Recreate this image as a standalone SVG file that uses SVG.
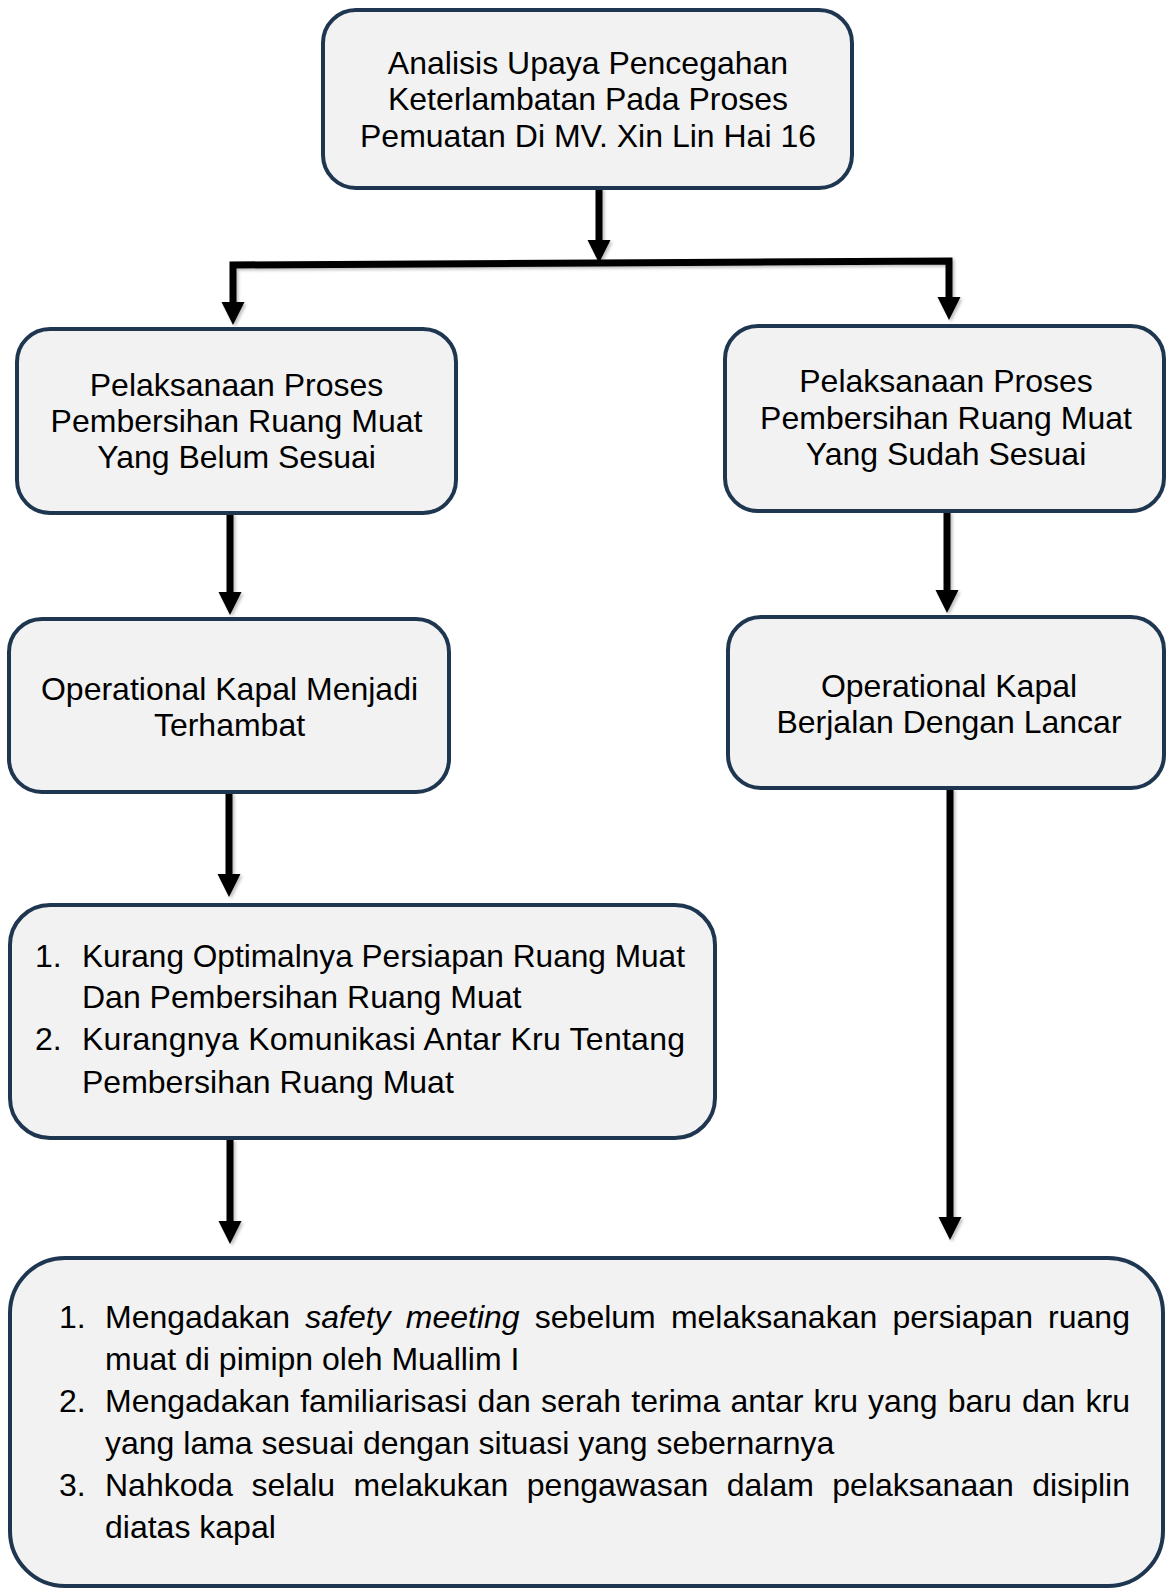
<svg xmlns="http://www.w3.org/2000/svg" width="1166" height="1588" viewBox="0 0 1166 1588">
<defs>
<marker id="ah" markerUnits="userSpaceOnUse" viewBox="0 -12 23 24" markerWidth="23" markerHeight="24" refX="0" refY="0" orient="auto" overflow="visible">
<path d="M0,-11.5 L23,0 L0,11.5 Z" fill="#000"/>
</marker>
<filter id="sh" x="-20%" y="-20%" width="140%" height="140%">
<feDropShadow dx="2" dy="2" stdDeviation="1.5" flood-color="#000" flood-opacity="0.25"/>
</filter>
</defs>
<style>
.box{fill:#F2F2F2;stroke:#1F3651;stroke-width:4}
.t{font-family:"Liberation Sans",Arial,sans-serif;font-size:32px;fill:#000}
.c{text-anchor:middle}
.con{fill:none;stroke:#000;stroke-width:7;stroke-linejoin:miter}
</style>
<rect width="1166" height="1588" fill="#fff"/>
<g id="connectors" filter="url(#sh)">
<path class="con" d="M599,188 L599,240" marker-end="url(#ah)"/>
<path class="con" d="M599,263 L233,265 L233,302" marker-end="url(#ah)"/>
<path class="con" d="M599,263 L949,261 L949,297" marker-end="url(#ah)"/>
<path class="con" d="M230,513 L230,592" marker-end="url(#ah)"/>
<path class="con" d="M947,511 L947,590" marker-end="url(#ah)"/>
<path class="con" d="M229,792 L229,874" marker-end="url(#ah)"/>
<path class="con" d="M230,1139 L230,1221" marker-end="url(#ah)"/>
<path class="con" d="M950,788 L950,1217" marker-end="url(#ah)"/>
</g>
<g id="n-top">
<rect class="box" x="323" y="10" width="529" height="178" rx="33"/>
<text class="t c" x="588" y="74">Analisis Upaya Pencegahan</text>
<text class="t c" x="588" y="110">Keterlambatan Pada Proses</text>
<text class="t c" x="588" y="147">Pemuatan Di MV. Xin Lin Hai 16</text>
</g>
<g id="n-left1">
<rect class="box" x="17" y="329" width="439" height="184" rx="33"/>
<text class="t c" x="236.5" y="396">Pelaksanaan Proses</text>
<text class="t c" x="236.5" y="432">Pembersihan Ruang Muat</text>
<text class="t c" x="236.5" y="468">Yang Belum Sesuai</text>
</g>
<g id="n-right1">
<rect class="box" x="725" y="326" width="439" height="185" rx="33"/>
<text class="t c" x="946" y="392">Pelaksanaan Proses</text>
<text class="t c" x="946" y="429">Pembersihan Ruang Muat</text>
<text class="t c" x="946" y="465">Yang Sudah Sesuai</text>
</g>
<g id="n-left2">
<rect class="box" x="9" y="619" width="440" height="173" rx="33"/>
<text class="t c" x="229.5" y="700">Operational Kapal Menjadi</text>
<text class="t c" x="229.5" y="736">Terhambat</text>
</g>
<g id="n-right2">
<rect class="box" x="728" y="617" width="436" height="171" rx="33"/>
<text class="t c" x="949" y="697">Operational Kapal</text>
<text class="t c" x="949" y="733">Berjalan Dengan Lancar</text>
</g>
<g id="n-causes">
<rect class="box" x="10" y="905" width="705" height="233" rx="40"/>
<text class="t" x="35" y="967">1.</text>
<text class="t" x="82" y="967" textLength="603" lengthAdjust="spacingAndGlyphs">Kurang Optimalnya Persiapan Ruang Muat</text>
<text class="t" x="82" y="1008">Dan Pembersihan Ruang Muat</text>
<text class="t" x="35" y="1050">2.</text>
<text class="t" x="82" y="1050" textLength="603" lengthAdjust="spacing">Kurangnya Komunikasi Antar Kru Tentang</text>
<text class="t" x="82" y="1093">Pembersihan Ruang Muat</text>
</g>
<g id="n-solutions">
<rect class="box" x="10" y="1258" width="1153" height="328" rx="55"/>
<text class="t" x="59" y="1328">1.</text>
<text class="t" y="1328"><tspan x="105">Mengadakan</tspan><tspan x="305.2" font-style="italic">safety</tspan><tspan x="405.8" font-style="italic">meeting</tspan><tspan x="534.8">sebelum</tspan><tspan x="670.9">melaksanakan</tspan><tspan x="892.4">persiapan</tspan><tspan x="1048.1">ruang</tspan></text>
<text class="t" x="105" y="1370">muat di pimipn oleh Muallim I</text>
<text class="t" x="59" y="1412">2.</text>
<text class="t" y="1412"><tspan x="105">Mengadakan</tspan><tspan x="300.2">familiarisasi</tspan><tspan x="477.5">dan</tspan><tspan x="541.1">serah</tspan><tspan x="631.3">terima</tspan><tspan x="730.4">antar</tspan><tspan x="813.5">kru</tspan><tspan x="868.1">yang</tspan><tspan x="947.7">baru</tspan><tspan x="1021.9">dan</tspan><tspan x="1085.5">kru</tspan></text>
<text class="t" x="105" y="1454">yang lama sesuai dengan situasi yang sebernarnya</text>
<text class="t" x="59" y="1496">3.</text>
<text class="t" y="1496"><tspan x="105">Nahkoda</tspan><tspan x="251.5">selalu</tspan><tspan x="353.6">melakukan</tspan><tspan x="526.8">pengawasan</tspan><tspan x="726.7">dalam</tspan><tspan x="832.3">pelaksanaan</tspan><tspan x="1032.2">disiplin</tspan></text>
<text class="t" x="105" y="1538">diatas kapal</text>
</g>
</svg>
